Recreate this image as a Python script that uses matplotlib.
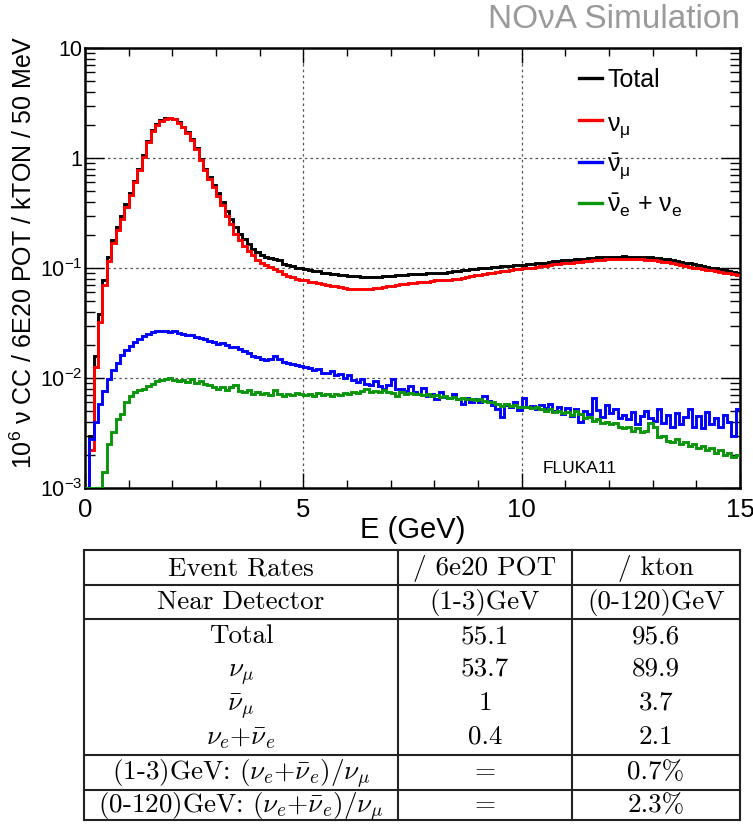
import numpy as np
import matplotlib
matplotlib.use("Agg")
import matplotlib.pyplot as plt
from matplotlib.ticker import FixedLocator, FixedFormatter, NullFormatter, MultipleLocator

plt.rcParams['font.family'] = ['Liberation Sans', 'DejaVu Sans']
plt.rcParams['mathtext.fontset'] = 'custom'
plt.rcParams['mathtext.rm'] = 'Liberation Sans'
plt.rcParams['mathtext.it'] = 'Liberation Sans'
plt.rcParams['mathtext.bf'] = 'Liberation Sans:bold'
plt.rcParams['mathtext.sf'] = 'Liberation Sans'

# ---------------- spectra: 10^6 nu CC / 6E20 POT / kTON, 0.1 GeV bins -------------
E_MIN, E_MAX, BIN_W = 0.0, 15.0, 0.1

total = [
    0, 0.0030, 0.016, 0.038, 0.078, 0.125, 0.18, 0.235, 0.30, 0.38,
    0.48, 0.62, 0.80, 1.06, 1.43, 1.78, 2.03, 2.21, 2.30, 2.33,
    2.28, 2.13, 1.93, 1.71, 1.48, 1.23, 0.98, 0.80, 0.67, 0.57,
    0.48, 0.40, 0.33, 0.28, 0.235, 0.205, 0.185, 0.166, 0.150, 0.139,
    0.132, 0.127, 0.123, 0.122, 0.118, 0.109, 0.106, 0.104, 0.101, 0.099,
    0.097, 0.095, 0.094, 0.093, 0.091, 0.090, 0.089, 0.088, 0.087, 0.086,
    0.085, 0.084, 0.084, 0.083, 0.083, 0.083, 0.083, 0.083, 0.084, 0.084,
    0.085, 0.086, 0.086, 0.087, 0.088, 0.088, 0.089, 0.089, 0.090, 0.090,
    0.090, 0.091, 0.091, 0.092, 0.093, 0.094, 0.095, 0.096, 0.097, 0.098,
    0.099, 0.100, 0.101, 0.102, 0.103, 0.104, 0.104, 0.105, 0.106, 0.106,
    0.107, 0.108, 0.109, 0.110, 0.111, 0.112, 0.114, 0.115, 0.116, 0.117,
    0.118, 0.119, 0.120, 0.121, 0.122, 0.123, 0.124, 0.125, 0.126, 0.126,
    0.127, 0.127, 0.127, 0.128, 0.127, 0.127, 0.127, 0.126, 0.126, 0.125,
    0.124, 0.123, 0.121, 0.120, 0.118, 0.116, 0.114, 0.112, 0.110, 0.108,
    0.106, 0.104, 0.102, 0.100, 0.099, 0.097, 0.095, 0.094, 0.092, 0.090,
]

numu = [
    0, 0.0022, 0.0126, 0.032, 0.070, 0.115, 0.17, 0.22, 0.28, 0.36,
    0.46, 0.60, 0.78, 1.03, 1.40, 1.75, 2.00, 2.18, 2.27, 2.30,
    2.25, 2.10, 1.90, 1.68, 1.45, 1.20, 0.95, 0.77, 0.64, 0.54,
    0.45, 0.37, 0.30, 0.25, 0.205, 0.178, 0.157, 0.142, 0.130, 0.119,
    0.112, 0.106, 0.102, 0.098, 0.093, 0.088, 0.085, 0.082, 0.080, 0.078,
    0.077, 0.075, 0.074, 0.073, 0.072, 0.070, 0.069, 0.068, 0.067, 0.066,
    0.065, 0.065, 0.064, 0.064, 0.064, 0.065, 0.066, 0.066, 0.067, 0.068,
    0.069, 0.070, 0.071, 0.072, 0.073, 0.073, 0.074, 0.075, 0.075, 0.076,
    0.077, 0.077, 0.078, 0.078, 0.079, 0.080, 0.081, 0.082, 0.084, 0.086,
    0.087, 0.089, 0.090, 0.091, 0.092, 0.093, 0.094, 0.096, 0.097, 0.098,
    0.099, 0.100, 0.101, 0.102, 0.104, 0.105, 0.107, 0.108, 0.109, 0.110,
    0.111, 0.112, 0.113, 0.114, 0.115, 0.116, 0.117, 0.118, 0.119, 0.120,
    0.120, 0.121, 0.121, 0.122, 0.121, 0.121, 0.120, 0.120, 0.119, 0.118,
    0.117, 0.116, 0.114, 0.113, 0.111, 0.109, 0.107, 0.105, 0.103, 0.101,
    0.099, 0.098, 0.096, 0.095, 0.093, 0.092, 0.091, 0.090, 0.088, 0.087,
]

numubar = [
    0, 0.0028, 0.0040, 0.0058, 0.0076, 0.0098, 0.0118, 0.0138, 0.0162, 0.0180,
    0.0197, 0.0212, 0.0228, 0.0240, 0.0252, 0.0260, 0.0265, 0.0268, 0.0266, 0.0262,
    0.0265, 0.0258, 0.0252, 0.0248, 0.0244, 0.0236, 0.0230, 0.0224, 0.0219, 0.0212,
    0.0205, 0.0207, 0.0198, 0.0193, 0.0190, 0.0184, 0.0176, 0.0168, 0.0158, 0.0155,
    0.0150, 0.0146, 0.0150, 0.0160, 0.0148, 0.0140, 0.0138, 0.0133, 0.0131, 0.0128,
    0.0126, 0.0124, 0.0118, 0.0121, 0.0112, 0.0110, 0.0115, 0.0106, 0.0108, 0.0101,
    0.0107, 0.0095, 0.0092, 0.0098, 0.0088, 0.0086, 0.0093, 0.0084, 0.0080, 0.0087,
    0.0097, 0.0079, 0.0080, 0.0076, 0.0085, 0.0074, 0.0072, 0.0081, 0.0068, 0.0071,
    0.0064, 0.0074, 0.0067, 0.0066, 0.0071, 0.0064, 0.0058, 0.0066, 0.0061, 0.0064,
    0.0060, 0.0068, 0.0062, 0.0057, 0.0052, 0.0044, 0.0057, 0.0055, 0.0060, 0.0051,
    0.0066, 0.0054, 0.0056, 0.0052, 0.0057, 0.0053, 0.0058, 0.0050, 0.0055, 0.0047,
    0.0053, 0.0045, 0.0052, 0.0040, 0.0050, 0.0047, 0.0066, 0.0051, 0.0044, 0.0057,
    0.0048, 0.0052, 0.0043, 0.0046, 0.0042, 0.0049, 0.0038, 0.0045, 0.0050, 0.0043,
    0.0041, 0.0052, 0.0039, 0.0046, 0.0036, 0.0048, 0.0038, 0.0044, 0.0052, 0.0036,
    0.0045, 0.0035, 0.0049, 0.0038, 0.0043, 0.0036, 0.0046, 0.0040, 0.0030, 0.0052,
]

nue_sum = [
    0, 0, 0, 0, 0.0014, 0.0025, 0.0032, 0.0042, 0.0047, 0.0060,
    0.0068, 0.0074, 0.0077, 0.0080, 0.0085, 0.0088, 0.0093, 0.0096, 0.0097, 0.0101,
    0.0096, 0.0093, 0.0095, 0.0092, 0.0097, 0.0091, 0.0093, 0.0088, 0.0086, 0.0083,
    0.0080, 0.0083, 0.0078, 0.0082, 0.0087, 0.0076, 0.0074, 0.0078, 0.0072, 0.0075,
    0.0071, 0.0073, 0.0070, 0.0078, 0.0071, 0.0069, 0.0072, 0.0070, 0.0073, 0.0071,
    0.0070, 0.0072, 0.0069, 0.0073, 0.0070, 0.0071, 0.0069, 0.0072, 0.0070, 0.0073,
    0.0071, 0.0074, 0.0073, 0.0076, 0.0079, 0.0075, 0.0076, 0.0074, 0.0077, 0.0075,
    0.0073, 0.0069, 0.0074, 0.0072, 0.0073, 0.0071, 0.0072, 0.0070, 0.0071, 0.0069,
    0.0070, 0.0067, 0.0069, 0.0066, 0.0067, 0.0065, 0.0066, 0.0064, 0.0065, 0.0063,
    0.0064, 0.0062, 0.0060, 0.0061, 0.0058, 0.0056, 0.0058, 0.0056, 0.0057, 0.0055,
    0.0054, 0.0055, 0.0053, 0.0054, 0.0052, 0.0050, 0.0052, 0.0049, 0.0050, 0.0048,
    0.0049, 0.0046, 0.0050, 0.0047, 0.0043, 0.0044, 0.0041, 0.0042, 0.0039, 0.0040,
    0.0038, 0.0039, 0.0036, 0.0035, 0.0036, 0.0033, 0.0035, 0.0032, 0.0033, 0.0039,
    0.0036, 0.0029, 0.0030, 0.0027, 0.0026, 0.0028, 0.0025, 0.0026, 0.0024, 0.0025,
    0.0023, 0.0024, 0.0022, 0.0023, 0.0021, 0.0022, 0.0020, 0.0021, 0.0019, 0.0020,
]

series_labels = ['Total', r'$\nu_{\mu}$', r'$\bar{\nu}_{\mu}$', r'$\bar{\nu}_{e}$ + $\nu_{e}$']
series_colors = ['black', '#ff0000', '#0000ff', '#0a960a']

# ---------------- event-rate table ---------------
table_header = [('Event Rates', '/ 6e20 POT', '/ kton'),
                ('Near Detector', '(1-3)GeV', '(0-120)GeV')]
rate_names = ['Total', r'$\nu_\mu$', r'$\bar{\nu}_\mu$', r'$\nu_e{+}\bar{\nu}_e$']
rate_pot_1_3 = ['55.1', '53.7', '1', '0.4']
rate_kton_0_120 = ['95.6', '89.9', '3.7', '2.1']
ratio_rows = [(r'(1-3)GeV: $(\nu_e{+}\bar{\nu}_e)/\nu_\mu$', '=', '0.7%'),
              (r'(0-120)GeV: $(\nu_e{+}\bar{\nu}_e)/\nu_\mu$', '=', '2.3%')]

W, H = 753, 825
fig = plt.figure(figsize=(W / 100, H / 100), dpi=100)
fig.patch.set_facecolor('white')

ax = fig.add_axes([85 / W, 1 - 488 / H, 655 / W, 440 / H])
edges = np.arange(E_MIN, E_MAX + BIN_W / 2, BIN_W)
Y_MIN, Y_MAX = 1e-3, 10

for vals, col in zip([total, numu, numubar, nue_sum], series_colors):
    ax.stairs(np.maximum(np.asarray(vals), Y_MIN), edges, baseline=None,
              color=col, lw=2.1, zorder=3)

ax.set_yscale('log')
ax.set_xlim(E_MIN, E_MAX)
ax.set_ylim(Y_MIN, Y_MAX)

ax.xaxis.set_major_locator(FixedLocator([0, 5, 10, 15]))
ax.xaxis.set_minor_locator(MultipleLocator(1))
ax.yaxis.set_major_locator(FixedLocator([1e-3, 1e-2, 1e-1, 1, 10]))
ax.yaxis.set_major_formatter(FixedFormatter([r'$10^{-3}$', r'$10^{-2}$', r'$10^{-1}$', '1', '10']))
minor_y = [m * 10.0 ** d for d in range(-3, 1) for m in range(2, 10)]
ax.yaxis.set_minor_locator(FixedLocator(minor_y))
ax.yaxis.set_minor_formatter(NullFormatter())

ax.tick_params(which='both', direction='in', top=True, right=True, width=1.0, colors='black')
ax.tick_params(axis='x', which='major', length=11, pad=7, labelsize=18.5)
ax.tick_params(axis='x', which='minor', length=6)
ax.tick_params(axis='y', which='major', length=14, pad=2, labelsize=15.5)
ax.tick_params(axis='y', which='minor', length=7)
for s in ax.spines.values():
    s.set_linewidth(1.8)

for gx in [5, 10]:
    ax.axvline(gx, color='#555555', lw=0.9, ls=(0, (2, 2.5)), zorder=1)
for gy in [1e-2, 1e-1, 1]:
    ax.axhline(gy, color='#555555', lw=0.9, ls=(0, (2, 2.5)), zorder=1)

ax.set_xlabel('E (GeV)', fontsize=21, labelpad=-4)
fig.text(24 / W, 1 - 252 / H, r'$10^{6}$ $\nu$ CC / 6E20 POT / kTON / 50 MeV',
         rotation=90, ha='center', va='center', fontsize=18)

# legend block
leg_handle_y = [78, 120, 162, 203]
leg_text_base = [87, 131, 172, 213]
for lab, col, hy, ty in zip(series_labels, series_colors, leg_handle_y, leg_text_base):
    fig.add_artist(plt.Line2D([579 / W, 602 / W], [1 - hy / H, 1 - hy / H],
                              color=col, lw=2.4, transform=fig.transFigure))
    fig.text(607 / W, 1 - ty / H, lab, ha='left', va='baseline', fontsize=18)

ax.text(0.756, 0.045, 'FLUKA11', transform=ax.transAxes, ha='center', va='center', fontsize=12.5)
fig.text(740 / W, 1 - 20 / H, 'NO\u03bdA Simulation', ha='right', va='center',
         fontsize=24, color='#9a9a9a')

# table drawn in pixel coordinates
axt = fig.add_axes([0, 0, 1, 1], zorder=-1)
axt.set_xlim(0, W)
axt.set_ylim(H, 0)
axt.axis('off')

tx0, tx1, tx2, tx3 = 84, 398, 572, 740
row_lines = [550, 585, 619, 755, 790, 820]
line_kw = dict(color='#222222', lw=1.5)
for yl in row_lines:
    axt.plot([tx0, tx3], [yl, yl], **line_kw)
for xl in [tx0, tx1, tx2, tx3]:
    axt.plot([xl, xl], [row_lines[0], row_lines[-1]], **line_kw)

col_c = [(tx0 + tx1) / 2, (tx1 + tx2) / 2, (tx2 + tx3) / 2]
tkw = dict(ha='center', va='baseline', fontsize=19.5, family='cmr10', math_fontfamily='cm')

header_base = [575, 609]
for row, yb in zip(table_header, header_base):
    for txt, xc in zip(row, col_c):
        axt.text(xc, yb, txt, **tkw)

body_base = [643, 676, 710, 744]
for name, a, b, yb in zip(rate_names, rate_pot_1_3, rate_kton_0_120, body_base):
    for txt, xc in zip((name, a, b), col_c):
        axt.text(xc, yb, txt, **tkw)

ratio_base = [779, 812]
for row, yb in zip(ratio_rows, ratio_base):
    for txt, xc in zip(row, col_c):
        axt.text(xc, yb, txt, **tkw)

fig.savefig('out.png', dpi=100, facecolor='white')
